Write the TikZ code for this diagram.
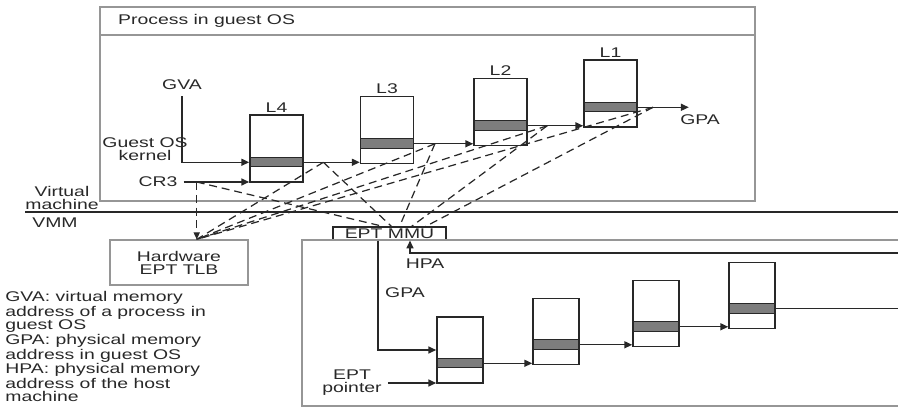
\documentclass[tikz,border=0pt]{standalone}
\usepackage{fontspec}
\setmainfont{Liberation Sans}[FakeStretch=1.38]
\usepackage{tikz}
\usetikzlibrary{
    arrows.meta,
    calc,
    positioning
}
\definecolor{frame}{RGB}{150,150,150}
\definecolor{band}{RGB}{125,125,125}
\definecolor{ink}{RGB}{40,40,40}

\begin{document}
\begin{tikzpicture}[x=0.02cm, y=0.02cm,
    font=\fontsize{8}{7.4}\selectfont, text=ink,
    arr/.style={-{Triangle[length=4.5pt,width=4pt]}, line width=0.8pt, ink},
    walk/.style={dash pattern=on 4.5pt off 2.8pt, line width=0.7pt, ink},
    tbl/.style={draw=ink, line width=0.9pt, minimum width=1.06cm, minimum height=1.34cm, inner sep=0pt,
        path picture={
            \fill[band] ([yshift=0.31cm]path picture bounding box.south west)
                rectangle ([yshift=0.5cm]path picture bounding box.south east);
            \draw[line width=0.5pt, ink] ([yshift=0.31cm]path picture bounding box.south west)
                -- ([yshift=0.31cm]path picture bounding box.south east)
                ([yshift=0.5cm]path picture bounding box.south west)
                -- ([yshift=0.5cm]path picture bounding box.south east);
        }},
    ept/.style={tbl, minimum width=0.92cm, minimum height=1.32cm}
]
    \useasboundingbox (0,0) rectangle (898,-408);

    % Guest OS frame
    \draw[frame, line width=0.6pt] (100,-7) rectangle (755,-201);
    \draw[frame, line width=0.6pt] (100,-35) -- (755,-35);
    \node[anchor=west] (title) at (112,-21) {Process in guest OS};

    % Separator
    \draw[ink, line width=0.8pt] (25,-212) -- (898,-212);
    \node[align=center] (vm) at (62,-198) {Virtual\\machine};
    \node (vmm) at (55,-223) {VMM};

    % Guest page tables
    \node[tbl, label={[inner sep=1pt]above:L4}] (L4) at (276.5,-148.5) {};
    \node[tbl, label={[inner sep=1pt]above:L3}] (L3) at (387,-130) {};
    \node[tbl, label={[inner sep=1pt]above:L2}] (L2) at (500.5,-112) {};
    \node[tbl, label={[inner sep=1pt]above:L1}] (L1) at (610.5,-93.5) {};

    \node (gva) at (182,-85) {GVA};
    \node[align=center] (kernel) at (145,-149) {Guest OS\\kernel};
    \node (cr3) at (158,-182) {CR3};

    \draw[arr] (gva.south) |- ([yshift=0.41cm]L4.south west);
    \draw[arr] (cr3.east) -- node[coordinate, pos=0.2] (c3) {} (cr3.east -| L4.west);
    \draw[arr] ([yshift=0.41cm]L4.south east) -- node[coordinate, pos=0.35] (d1) {}
        ([yshift=0.41cm]L4.south east -| L3.west);
    \draw[arr] ([yshift=0.41cm]L3.south east) -- node[coordinate, pos=0.35] (d2) {}
        ([yshift=0.41cm]L3.south east -| L2.west);
    \draw[arr] ([yshift=0.41cm]L2.south east) -- node[coordinate, pos=0.35] (d3) {}
        ([yshift=0.41cm]L2.south east -| L1.west);
    \draw[arr] ([yshift=0.41cm]L1.south east) -- node[coordinate, pos=0.3] (d4) {}
        ++(51,0) coordinate (gpaEnd);
    \node (gpaTop) at (700,-120) {GPA};

    % VMM side
    \node[draw=ink, line width=0.6pt, minimum width=2.26cm, minimum height=0.26cm, inner sep=0pt] (mmu) at (389.5,-233.5) {EPT MMU};
    \node[draw=frame, line width=0.7pt, minimum width=2.76cm, minimum height=0.9cm, align=center] (TLB) at (179,-262.5) {Hardware\\EPT TLB};

    % Dashed lookups
    \coordinate (tlbIn) at (c3 |- TLB.north);
    \draw[walk, -{Triangle[length=4pt,width=3.5pt]}] (c3) -- (tlbIn);
    \foreach \s in {d1,d2,d3,d4}
        \draw[walk] (\s) -- (tlbIn);
    \foreach \s/\dx in {c3/-6, d1/2, d2/10, d3/22, d4/36}
        \draw[walk] (\s) -- ($(mmu.north)+(\dx,0)$);

    % EPT frame
    \draw[frame, line width=0.6pt] (898,-240) -- (302,-240) -- (302,-406) -- (898,-406);

    % EPT tables
    \node[ept] (B1) at (460,-350) {};
    \node[ept] (B2) at (556,-331.5) {};
    \node[ept] (B3) at (656,-313.5) {};
    \node[ept] (B4) at (752,-295.5) {};

    \coordinate (hpaR) at (898,-253);
    \draw[arr] (hpaR) -| ($(mmu.south)+(20.5,0)$);
    \node (hpa) at (425,-264) {HPA};
    \draw[arr] ($(mmu.south)+(-11.5,0)$) |- (B1.west);
    \node (gpaBot) at (405,-293) {GPA};
    \node[align=center] (eptp) at (352,-383) {EPT\\pointer};
    \draw[arr] (eptp.east) -- (eptp.east -| B1.west);

    \draw[arr] ([yshift=0.41cm]B1.south east) -- ([yshift=0.41cm]B1.south east -| B2.west);
    \draw[arr] ([yshift=0.41cm]B2.south east) -- ([yshift=0.41cm]B2.south east -| B3.west);
    \draw[arr] ([yshift=0.41cm]B3.south east) -- ([yshift=0.41cm]B3.south east -| B4.west);
    \draw[ink, line width=0.8pt] ([yshift=0.41cm]B4.south east) -- ++(123,0) coordinate (outR);

    % Legend
    \node[anchor=north west, align=left, inner sep=0pt] (legend) at (5,-291)
        {GVA: virtual memory\\address of a process in\\guest OS\\GPA: physical memory\\address in guest OS\\HPA: physical memory\\address of the host\\machine};
\end{tikzpicture}
\end{document}
